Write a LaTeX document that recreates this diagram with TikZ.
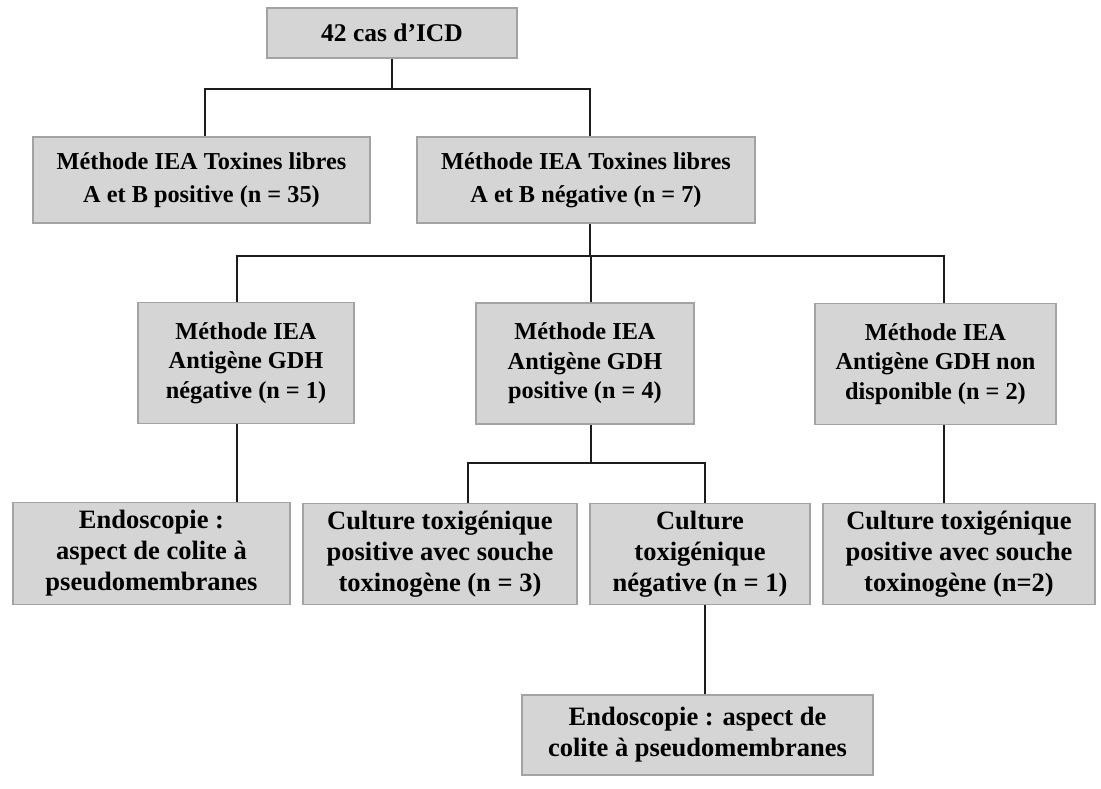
\documentclass[tikz,border=0pt]{standalone}
\usepackage{fontspec}
\setmainfont{Liberation Serif}
\definecolor{boxfill}{HTML}{D5D5D5}
\definecolor{boxline}{HTML}{A3A3A3}
\definecolor{connline}{HTML}{1C1C1C}
\tikzset{
  box/.style={draw=boxline, fill=boxfill, line width=1.5pt, align=center,
    inner sep=0pt, anchor=center, font=\bfseries},
  conn/.style={draw=connline, line width=2pt},
}
\newcommand{\fs}[2]{\fontsize{#1}{#2}\selectfont}
\begin{document}
\begin{tikzpicture}[x=1pt,y=-1pt]
\useasboundingbox[fill=white] (0,0) rectangle (1101,789);
% level 1
\node[box, minimum width=250, minimum height=50, font=\bfseries\fs{25.5}{31}] (top) at (392,33) {42 cas d'ICD};
% level 2
\node[box, minimum width=337, minimum height=86, font=\bfseries\fs{24.3}{33}] (a) at (201.5,180) {Méthode IEA Toxines libres\\A et B positive (n = 35)};
\node[box, minimum width=338, minimum height=86, font=\bfseries\fs{24.3}{33}] (b) at (586,180) {Méthode IEA Toxines libres\\A et B négative (n = 7)};
% level 3
\node[box, minimum width=216, minimum height=121, font=\bfseries\fs{24.3}{29.5}] (c) at (246,363) {Méthode IEA\\Antigène GDH\\négative (n = 1)};
\node[box, minimum width=218, minimum height=121, font=\bfseries\fs{24.3}{29.5}] (d) at (585,363.5) {Méthode IEA\\Antigène GDH\\positive (n = 4)};
\node[box, minimum width=241, minimum height=121, font=\bfseries\fs{24.3}{29.5}] (e) at (935.5,364) {Méthode IEA\\Antigène GDH non\\disponible (n = 2)};
% level 4
\node[box, minimum width=277, minimum height=102, font=\bfseries\fs{26.5}{31}] (f) at (151.5,553.5) {Endoscopie :\\aspect de colite à\\pseudomembranes};
\node[box, minimum width=274, minimum height=101, font=\bfseries\fs{26.5}{31}] (g) at (440,554) {Culture toxigénique\\positive avec souche\\toxinogène (n = 3)};
\node[box, minimum width=220, minimum height=101, font=\bfseries\fs{26.5}{31}] (h) at (700,554) {Culture\\toxigénique\\négative (n = 1)};
\node[box, minimum width=272, minimum height=101, font=\bfseries\fs{26.5}{31}] (i) at (959,554) {Culture toxigénique\\positive avec souche\\toxinogène (n=2)};
% level 5
\node[box, minimum width=351, minimum height=80, font=\bfseries\fs{26.5}{31}] (j) at (697.5,735) {Endoscopie : aspect de\\colite à pseudomembranes};
% connector positions
\coordinate (xa) at (205,0);
\coordinate (xb) at (590,0);
\coordinate (xc) at (237,0);
\coordinate (xd) at (591,0);
\coordinate (xe) at (944,0);
\coordinate (xg) at (468,0);
\coordinate (xh) at (705,0);
\coordinate (y1) at (0,89);
\coordinate (y2) at (0,256);
\coordinate (y3) at (0,463);
% connectors
\draw[conn] (top.south) -- (top.south |- y1);
\draw[conn] (a.north -| xa) |- (y1 -| xb) -- (b.north -| xb);
\draw[conn] (b.south -| xb) -- (y2 -| xb);
\draw[conn] (c.north -| xc) |- (y2 -| xe) -- (e.north -| xe);
\draw[conn] (y2 -| xd) -- (d.north -| xd);
\draw[conn] (c.south -| xc) -- (f.north -| xc);
\draw[conn] (d.south -| xd) -- (y3 -| xd);
\draw[conn] (g.north -| xg) |- (y3 -| xh) -- (h.north -| xh);
\draw[conn] (e.south -| xe) -- (i.north -| xe);
\draw[conn] (h.south -| xh) -- (j.north -| xh);
\end{tikzpicture}
\end{document}
